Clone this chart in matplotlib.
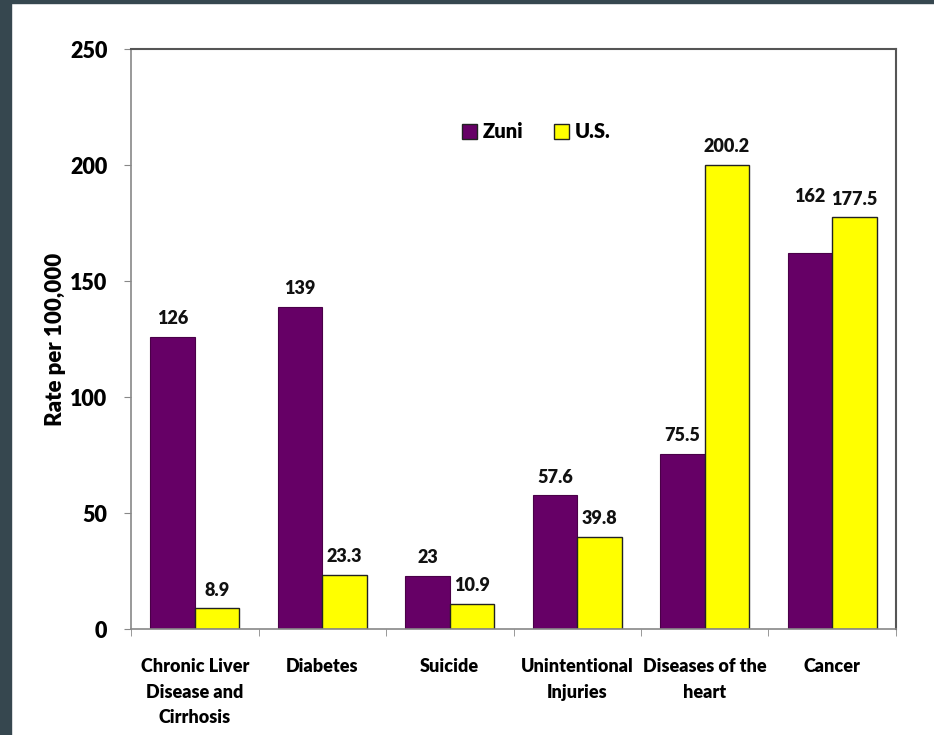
import matplotlib
matplotlib.use("Agg")
import matplotlib.pyplot as plt
import numpy as np
from matplotlib.patches import Rectangle

categories = ["Chronic Liver\nDisease and\nCirrhosis", "Diabetes", "Suicide",
              "Unintentional\nInjuries", "Diseases of the\nheart", "Cancer"]
zuni = [126, 139, 23, 57.6, 75.5, 162]
us = [8.9, 23.3, 10.9, 39.8, 200.2, 177.5]
zuni_labels = ["126", "139", "23", "57.6", "75.5", "162"]
us_labels = ["8.9", "23.3", "10.9", "39.8", "200.2", "177.5"]
yticks = [0, 50, 100, 150, 200, 250]

plt.rcParams['font.family'] = ['Lato', 'DejaVu Sans']
WT = 'heavy'
plt.rcParams['font.weight'] = WT

fig = plt.figure(figsize=(9.34, 7.35), dpi=100)
fig.patch.set_facecolor('white')
border = '#36474f'
fig.patches.append(Rectangle((0, 0), 11/934, 1, transform=fig.transFigure, color=border, zorder=-1))
fig.patches.append(Rectangle((0, 1-3/735), 1, 3/735, transform=fig.transFigure, color=border, zorder=-1))

ax = fig.add_axes([131/934, 106/735, 765/934, 580/735])
x = np.arange(len(categories))
w = 0.35
purple = '#660066'
yellow = '#ffff00'
ax.bar(x - w/2, zuni, w, color=purple, edgecolor='#4a0048', linewidth=0.8, label='Zuni')
ax.bar(x + w/2, us, w, color=yellow, edgecolor='#222222', linewidth=1.0, label='U.S.')

fs = 13
extra = {5: 28}
for i, (v, t) in enumerate(zip(zuni, zuni_labels)):
    ax.annotate(t, (x[i] - w/2, v), xytext=(0, 13 + extra.get(i, 0)), textcoords='offset points',
                ha='center', va='center', fontsize=fs, fontweight=WT, color='#111111')
for i, (v, t) in enumerate(zip(us, us_labels)):
    ax.annotate(t, (x[i] + w/2, v), xytext=(0, 13), textcoords='offset points',
                ha='center', va='center', fontsize=fs, fontweight=WT, color='#111111')

ax.set_xlim(-0.5, len(categories) - 0.5)
ax.set_ylim(0, 250)
ax.set_yticks(yticks)
ax.set_yticklabels([str(t) for t in yticks], fontsize=15.5, fontweight=WT)
ax.set_xticks(x)
ax.set_xticklabels(categories, fontsize=fs, fontweight=WT, linespacing=1.6)
ax.set_xticks(np.arange(-0.5, len(categories), 1), minor=True)
ax.tick_params(axis='x', which='major', length=0, pad=21)
ax.tick_params(axis='x', which='minor', length=5, color='#888888', direction='out')
ax.tick_params(axis='y', length=5, color='#888888', pad=12)
ax.set_ylabel("Rate per 100,000", fontsize=16, fontweight=WT, labelpad=3)

for s in ['left', 'bottom']:
    ax.spines[s].set_color('#888888')
    ax.spines[s].set_linewidth(1.2)
for s in ['top', 'right']:
    ax.spines[s].set_color('#555555')
    ax.spines[s].set_linewidth(1.5)

leg = ax.legend(loc='center', bbox_to_anchor=(0.530, 0.857), ncol=2, frameon=False,
                handlelength=0.75, handleheight=0.75, handletextpad=0.3,
                columnspacing=1.5, prop={'weight': WT, 'size': 14.5})
for h in leg.legend_handles:
    h.set_edgecolor('#222222')
    h.set_linewidth(1.0)

fig.savefig('out.png', dpi=100, facecolor='white')
